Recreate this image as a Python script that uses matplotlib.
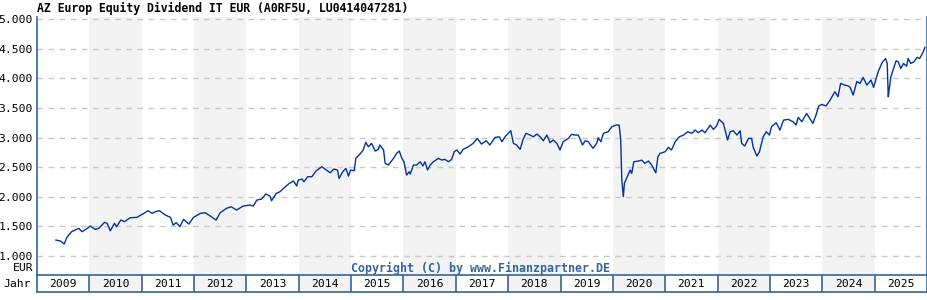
import matplotlib
matplotlib.use("Agg")
import matplotlib.pyplot as plt
from matplotlib.ticker import FuncFormatter

title = "AZ Europ Equity Dividend IT EUR (A0RF5U, LU0414047281)"
copyright_text = "Copyright (C) by www.Finanzpartner.DE"
years = list(range(2009, 2026))
y_ticks = [1000, 1500, 2000, 2500, 3000, 3500, 4000, 4500, 5000]

dates = [
    2009.36, 2009.45, 2009.52, 2009.57, 2009.66, 2009.73, 2009.80, 2009.86, 2009.96,
    2010.02, 2010.11, 2010.18, 2010.29, 2010.34, 2010.40, 2010.48, 2010.52, 2010.60,
    2010.67, 2010.78, 2010.91, 2011.04, 2011.12, 2011.20, 2011.26, 2011.34, 2011.45,
    2011.55, 2011.60, 2011.66, 2011.73, 2011.80, 2011.90, 2011.99, 2012.12, 2012.21,
    2012.31, 2012.42, 2012.50, 2012.62, 2012.71, 2012.81, 2012.94, 2013.07, 2013.13,
    2013.20, 2013.29, 2013.37, 2013.45, 2013.48, 2013.57, 2013.64, 2013.71, 2013.82,
    2013.90, 2013.96, 2013.99, 2014.06, 2014.10, 2014.17, 2014.25, 2014.33, 2014.44,
    2014.50, 2014.60, 2014.67, 2014.74, 2014.77, 2014.84, 2014.90, 2014.95, 2014.99,
    2015.06, 2015.09, 2015.17, 2015.23, 2015.28, 2015.33, 2015.39, 2015.46, 2015.52,
    2015.55, 2015.62, 2015.65, 2015.71, 2015.76, 2015.81, 2015.87, 2015.92, 2015.97,
    2016.01, 2016.06, 2016.11, 2016.13, 2016.19, 2016.25, 2016.32, 2016.37, 2016.41,
    2016.46, 2016.51, 2016.57, 2016.67, 2016.73, 2016.79, 2016.86, 2016.92, 2016.97,
    2017.02, 2017.08, 2017.14, 2017.24, 2017.33, 2017.41, 2017.49, 2017.58, 2017.65,
    2017.75, 2017.83, 2017.88, 2017.94, 2018.00, 2018.05, 2018.10, 2018.16, 2018.23,
    2018.28, 2018.34, 2018.42, 2018.48, 2018.55, 2018.61, 2018.67, 2018.74, 2018.80,
    2018.86, 2018.93, 2018.99, 2019.05, 2019.15, 2019.21, 2019.28, 2019.34, 2019.42,
    2019.47, 2019.53, 2019.62, 2019.69, 2019.72, 2019.77, 2019.82, 2019.91, 2019.98,
    2020.06, 2020.12, 2020.15, 2020.17, 2020.20, 2020.22, 2020.26, 2020.33, 2020.36,
    2020.40, 2020.49, 2020.55, 2020.61, 2020.68, 2020.74, 2020.82, 2020.86, 2020.90,
    2021.00, 2021.06, 2021.12, 2021.19, 2021.27, 2021.35, 2021.43, 2021.51, 2021.57,
    2021.63, 2021.70, 2021.76, 2021.86, 2021.92, 2021.98, 2022.03, 2022.11, 2022.16,
    2022.19, 2022.24, 2022.30, 2022.37, 2022.43, 2022.46, 2022.52, 2022.59, 2022.65,
    2022.68, 2022.75, 2022.80, 2022.87, 2022.93, 2022.99, 2023.03, 2023.12, 2023.19,
    2023.26, 2023.35, 2023.44, 2023.50, 2023.54, 2023.61, 2023.70, 2023.77, 2023.82,
    2023.88, 2023.93, 2023.99, 2024.07, 2024.15, 2024.24, 2024.30, 2024.35, 2024.43,
    2024.50, 2024.53, 2024.59, 2024.66, 2024.72, 2024.78, 2024.85, 2024.93, 2024.98,
    2025.06, 2025.14, 2025.21, 2025.24, 2025.26, 2025.28, 2025.31, 2025.36, 2025.41,
    2025.45, 2025.50, 2025.55, 2025.61, 2025.64, 2025.69, 2025.75, 2025.81, 2025.86,
    2025.92, 2025.96,
]

values = [
    1270, 1253, 1203, 1315, 1410, 1440, 1467, 1410, 1467,
    1506, 1450, 1467, 1569, 1552, 1427, 1552, 1495, 1608,
    1580, 1647, 1653, 1720, 1765, 1720, 1748, 1765, 1692,
    1653, 1523, 1563, 1495, 1620, 1540, 1653, 1720, 1731,
    1675, 1608, 1731, 1805, 1832, 1776, 1844, 1861, 1844,
    1945, 1962, 2047, 2013, 1933, 2058, 2085, 2143, 2227,
    2266, 2182, 2283, 2300, 2254, 2339, 2339, 2435, 2508,
    2469, 2406, 2469, 2452, 2311, 2423, 2480, 2350, 2452,
    2440, 2649, 2722, 2790, 2919, 2845, 2902, 2772, 2801,
    2874, 2790, 2565, 2536, 2592, 2649, 2733, 2772, 2649,
    2592, 2367, 2423, 2384, 2536, 2536, 2592, 2519, 2592,
    2452, 2536, 2592, 2649, 2620, 2632, 2592, 2632, 2761,
    2790, 2722, 2801, 2845, 2902, 2986, 2890, 2946, 2874,
    3003, 3013, 2930, 3013, 3071, 3115, 2902, 2874, 2801,
    2958, 3071, 3042, 3013, 3059, 3013, 2946, 3042, 2913,
    2958, 2902, 2790, 2930, 2986, 3054, 3042, 3042, 2874,
    2946, 2930, 2818, 2902, 2997, 2930, 3071, 3098, 3183,
    3211, 3211, 2958, 2283, 2002, 2227, 2311, 2452, 2396,
    2592, 2604, 2620, 2565, 2604, 2536, 2406, 2676, 2733,
    2761, 2835, 2790, 2930, 3013, 3042, 3098, 3071, 3127,
    3081, 3127, 3081, 3211, 3138, 3194, 3307, 3239, 3071,
    2958, 3098, 3115, 3042, 3115, 2902, 2857, 2986, 2986,
    2835, 2688, 2761, 3013, 3098, 3042, 3183, 3250, 3127,
    3295, 3307, 3267, 3211, 3341, 3267, 3408, 3307, 3239,
    3380, 3532, 3560, 3532, 3633, 3773, 3689, 3914, 3886,
    3869, 3847, 3717, 3946, 3914, 4015, 3886, 3970, 3847,
    4093, 4262, 4335, 4251, 3689, 3830, 4026, 4166, 4296,
    4279, 4166, 4251, 4206, 4335, 4251, 4279, 4353, 4335,
    4431, 4522,
]

W, H = 928, 300
border = "#336699"
shade = "#f3f3f3"
mono = "DejaVu Sans Mono"

fig = plt.figure(figsize=(W / 100, H / 100), dpi=100)
fig.patch.set_facecolor("white")

left, right = 37, 927
top, bottom = 17, 275
yr_bottom = 292

ax = fig.add_axes([left / W, 1 - bottom / H, (right - left) / W, (bottom - top) / H])
ax.set_xlim(2009, 2026)
ax.set_ylim(680, 5035)

for yr in years:
    if (yr - 2009) % 2 == 1:
        ax.axvspan(yr, yr + 1, color=shade, lw=0, zorder=0)

ax.set_yticks(y_ticks)
ax.yaxis.set_major_formatter(FuncFormatter(lambda v, p: f"{int(v):,}".replace(",", ".")))
ax.yaxis.grid(True, color="#c8c8c8", linestyle=(0, (4, 4)), lw=1.0, zorder=1)
ax.set_xticks([])
ax.tick_params(axis="y", length=0, pad=3, labelsize=8.2)
for lbl in ax.get_yticklabels():
    lbl.set_fontfamily(mono)
for s in ["top", "bottom"]:
    ax.spines[s].set_visible(False)
for s in ["left", "right"]:
    ax.spines[s].set_color(border)
    ax.spines[s].set_linewidth(1.2)

ax.plot(dates, values, color="#0033a0", lw=1.0, zorder=3)

# year row
ax2 = fig.add_axes([left / W, 1 - yr_bottom / H, (right - left) / W, (yr_bottom - bottom) / H])
ax2.set_xlim(2009, 2026)
ax2.set_ylim(0, 1)
ax2.set_xticks([])
ax2.set_yticks([])
for yr in years:
    if (yr - 2009) % 2 == 1:
        ax2.axvspan(yr, yr + 1, color=shade, lw=0, zorder=0)
    if yr > 2009:
        ax2.axvline(yr, color=border, lw=1.2)
    ax2.text(yr + 0.5, 0.45, str(yr), ha="center", va="center",
             fontsize=8.2, family=mono, color="black")
for s in ax2.spines.values():
    s.set_color(border)
    s.set_linewidth(1.2)

fig.text(left / W, 1 - 8 / H, title, ha="left", va="center",
         fontsize=8.3, family=mono, weight="bold", color="black")
fig.text(33 / W, 1 - 268 / H, "EUR", ha="right", va="center",
         fontsize=8.2, family=mono, color="black")
fig.text(31 / W, 1 - 284 / H, "Jahr", ha="right", va="center",
         fontsize=8.2, family=mono, color="black")
fig.text(481 / W, 1 - 268 / H, copyright_text, ha="center", va="center",
         fontsize=8.4, family=mono, weight="bold", color=border)

fig.savefig("out.png", dpi=100)
